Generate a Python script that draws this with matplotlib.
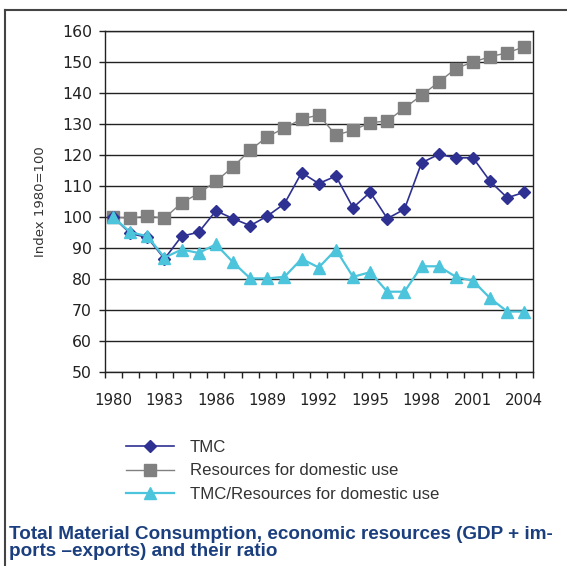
import numpy as np
import matplotlib
matplotlib.use('Agg')
import matplotlib.pyplot as plt
from matplotlib.lines import Line2D

# Index 1980=100
years = list(range(1980, 2005))
tmc = [100, 94.7, 93.4, 86.5, 93.8, 95.1, 102.0, 99.5, 97.2, 100.3, 104.3,
       114.3, 110.8, 113.2, 103.0, 108.0, 99.5, 102.5, 117.5, 120.2, 119.1,
       119.1, 111.5, 106.2, 108.0]
resources = [100, 99.6, 100.3, 99.6, 104.6, 107.6, 111.5, 116.2, 121.6, 125.9,
             128.7, 131.6, 132.9, 126.4, 128.0, 130.4, 131.0, 135.1, 139.3,
             143.5, 147.9, 150.0, 151.7, 153.0, 154.9]
ratio = [100, 95.1, 93.8, 86.9, 89.5, 88.4, 91.2, 85.4, 80.2, 80.2, 80.7,
         86.5, 83.7, 89.5, 80.7, 82.2, 75.9, 75.9, 84.1, 84.1, 80.7, 79.4,
         73.8, 69.5, 69.5]
labels = ['TMC', 'Resources for domestic use', 'TMC/Resources for domestic use']
title = ('Total Material Consumption, economic resources (GDP + im-\n'
         'ports \u2013exports) and their ratio')

c_tmc = '#2e3192'
c_res = '#808080'
c_ratio = '#4cc4dc'

fig = plt.figure(figsize=(5.67, 5.66), dpi=100)
W, H = 567, 566
ax = fig.add_axes([104.5 / W, 1 - 372 / H, (533 - 104.5) / W, (372 - 31) / H])

x = np.arange(len(years))
ax.plot(x, tmc, color=c_tmc, lw=1.2, marker='D', ms=6.3, zorder=5, label=labels[0])
ax.plot(x, resources, color=c_res, lw=1.0, marker='s', ms=8.8, zorder=4, label=labels[1])
ax.plot(x, ratio, color=c_ratio, lw=1.6, marker='^', ms=9, zorder=6, label=labels[2])

ax.set_xlim(-0.5, len(years) - 0.5)
ax.set_ylim(50, 160)
ax.set_yticks(np.arange(50, 161, 10))
ax.yaxis.grid(True, color='#222222', lw=1.0)
ax.set_axisbelow(True)

# category axis: labels every 3 years, tick marks between categories
ax.set_xticks(x[::3])
ax.set_xticklabels([str(y) for y in years[::3]])
ax.set_xticks(np.arange(-0.5, len(years), 1), minor=True)
ax.tick_params(axis='x', which='major', length=0, pad=15, labelsize=10.8, colors='#222222')
ax.tick_params(axis='x', which='minor', length=4, direction='out', width=1, color='#222222')
ax.tick_params(axis='y', length=4, width=1, pad=5, labelsize=11.3, colors='#222222')

for s in ax.spines.values():
    s.set_color('#222222')
    s.set_linewidth(1.0)

ax.set_ylabel('Index 1980=100', fontsize=9.5, color='#333333', labelpad=11)

fig.legend(loc='upper left', bbox_to_anchor=(126 / W, 1 - 440 / H), frameon=False,
           prop={'family': 'Liberation Sans', 'size': 12.1}, handlelength=2.85,
           handletextpad=0.95, labelspacing=0.5, borderpad=0, borderaxespad=0,
           labelcolor='#333333')

# frame around the figure (top and left edges)
fig.add_artist(Line2D([5 / W, 5 / W], [0, 1 - 10 / H], color='#444444', lw=1.5))
fig.add_artist(Line2D([5 / W, 1], [1 - 10 / H, 1 - 10 / H], color='#444444', lw=1.5))

fig.text(9 / W, 1 - 526 / H, title, ha='left', va='top', fontsize=13.6,
         fontweight='bold', color='#1b3f7e', linespacing=1.03,
         family=['Liberation Sans Narrow', 'Liberation Sans'])

fig.savefig('out.png', dpi=100)
